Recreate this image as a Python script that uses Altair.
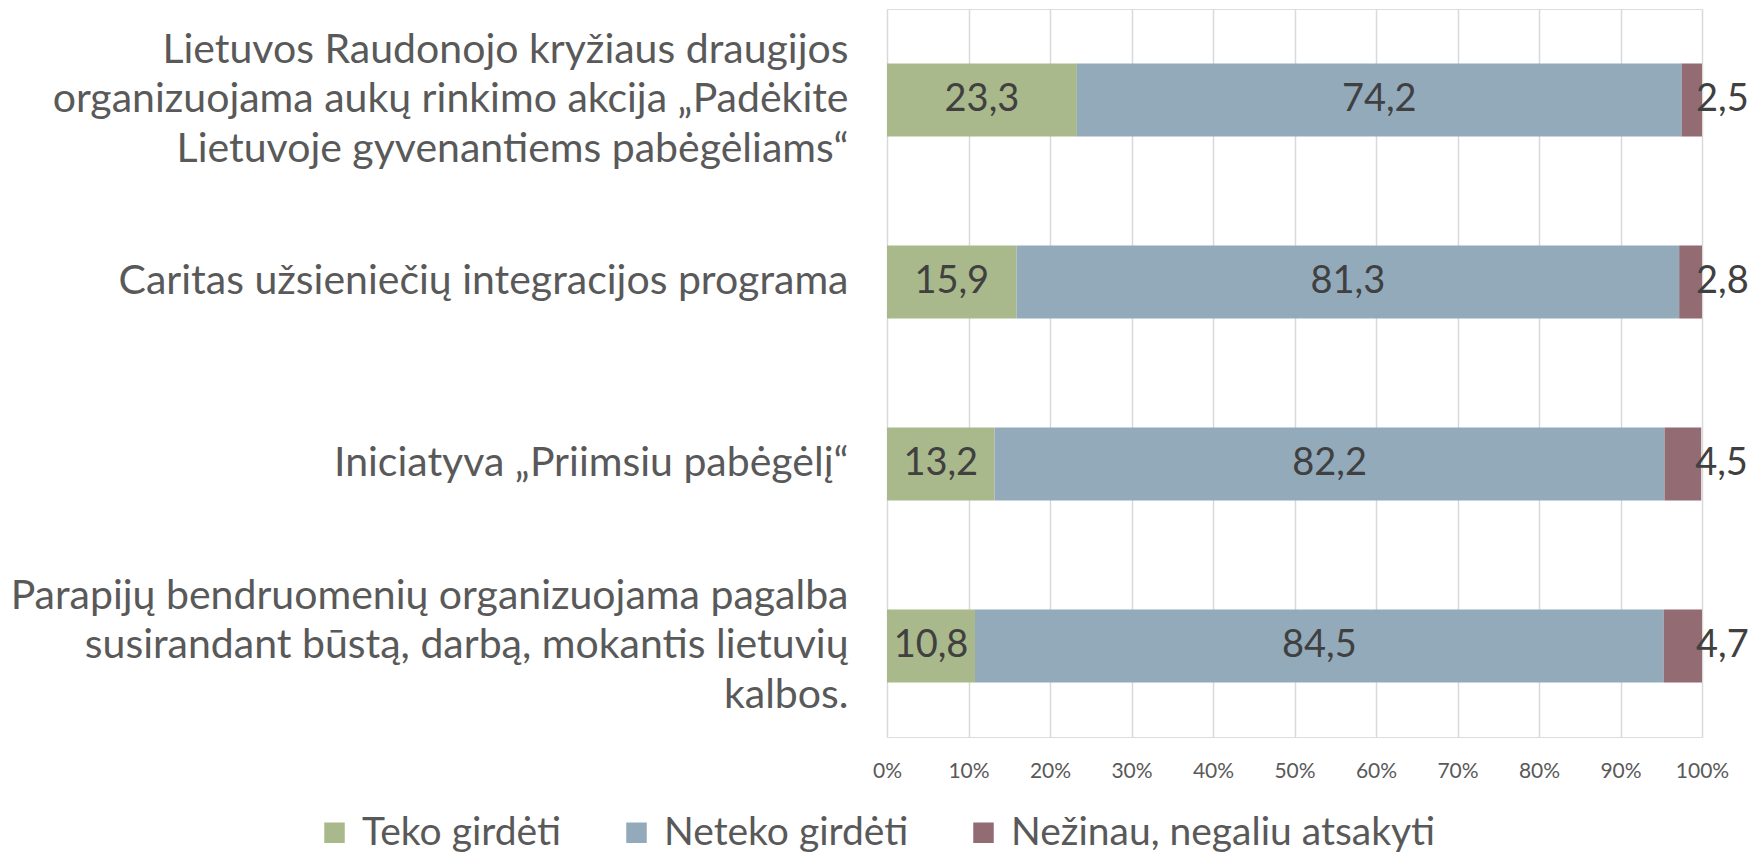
import altair as alt
import pandas as pd

categories = [
    "Lietuvos Raudonojo kryžiaus draugijos|organizuojama aukų rinkimo akcija „Padėkite|Lietuvoje gyvenantiems pabėgėliams“",
    "Caritas užsieniečių integracijos programa",
    "Iniciatyva „Priimsiu pabėgėlį“",
    "Parapijų bendruomenių organizuojama pagalba|susirandant būstą, darbą, mokantis lietuvių|kalbos.",
]
series = ["Teko girdėti", "Neteko girdėti", "Nežinau, negaliu atsakyti"]
teko = [23.3, 15.9, 13.2, 10.8]
neteko = [74.2, 81.3, 82.2, 84.5]
nezinau = [2.5, 2.8, 4.5, 4.7]
colors = ["#A9B98B", "#93AABB", "#926B73"]
tick_values = [0, 10, 20, 30, 40, 50, 60, 70, 80, 90, 100]

FONT = "Lato"

rows = []
for i, c in enumerate(categories):
    for j, (s, vals) in enumerate(zip(series, [teko, neteko, nezinau])):
        v = vals[i]
        rows.append({"cat": c, "series": s, "order": j, "value": v,
                     "label": f"{v:.1f}".replace(".", ",")})
df = pd.DataFrame(rows)

base = alt.Chart(df).transform_stack(
    stack="value", groupby=["cat"], as_=["start", "end"],
    sort=[alt.SortField("order", order="ascending")],
).transform_calculate(mid="(datum.start + datum.end) / 2")

y_enc = alt.Y("cat:N", sort=categories, title=None,
              scale=alt.Scale(paddingInner=0.6, paddingOuter=0.3),
              axis=alt.Axis(labelExpr="split(datum.label, '|')", labelFont=FONT,
                            labelFontSize=41, labelColor="#595959", labelAlign="right",
                            labelPadding=39, labelLineHeight=49.5, labelLimit=3000,
                            labelOffset={"condition": {"test": "indexof(datum.label, '|') >= 0",
                                                       "value": -49.5},
                                         "value": 0},
                            ticks=False, domain=False, grid=False))

bars = base.mark_bar().encode(
    y=y_enc,
    x=alt.X("start:Q", title=None,
            scale=alt.Scale(domain=[0, 100], nice=False),
            axis=alt.Axis(values=tick_values, labelExpr="datum.value + '%'",
                          labelFont=FONT, labelFontSize=21, labelColor="#595959",
                          labelPadding=23, labelFlush=False, ticks=False, domain=False,
                          grid=True, gridColor="#D9D9D9", gridWidth=1.5)),
    x2="end:Q",
    color=alt.Color("series:N", sort=series, title=None,
                    scale=alt.Scale(domain=series, range=colors),
                    legend=alt.Legend(orient="none", direction="horizontal",
                                      legendX=-572, legendY=804,
                                      symbolType="square", symbolSize=420,
                                      symbolStrokeWidth=0, symbolOpacity=1,
                                      labelFont=FONT, labelFontSize=39,
                                      labelColor="#595959", labelOffset=8,
                                      columnPadding=55, labelLimit=600)),
)

mid_labels = base.transform_filter("datum.order < 2").mark_text(
    font=FONT, fontSize=38, color="#404040", align="center", baseline="middle"
).encode(y=alt.Y("cat:N", sort=categories), x="mid:Q", text="label:N")

end_labels = base.transform_filter("datum.order == 2").mark_text(
    font=FONT, fontSize=38, color="#404040", align="left", baseline="middle", dx=-6
).encode(y=alt.Y("cat:N", sort=categories), x="end:Q", text="label:N")

chart = alt.layer(bars, mid_labels, end_labels).properties(
    width=815, height=728,
    autosize=alt.AutoSizeParams(type="none"),
    padding={"left": 879, "top": 1, "right": 53, "bottom": 117},
).configure_view(stroke=None).configure(background="white")

chart.save("out.html", embed_options={"renderer": "svg", "actions": False})
